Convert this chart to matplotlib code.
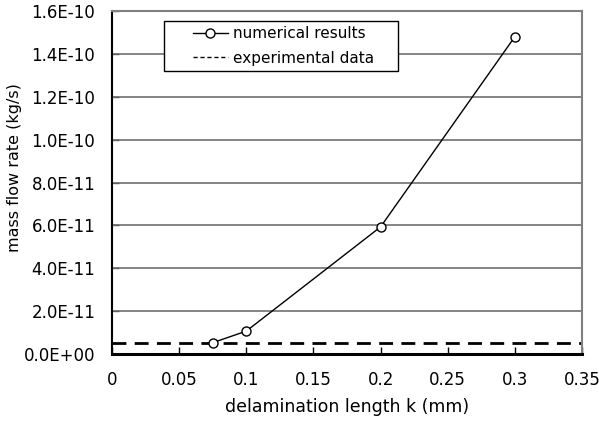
import matplotlib
matplotlib.use("Agg")
import matplotlib.pyplot as plt
from matplotlib.patches import Rectangle

plt.rcParams['font.family'] = ['DejaVu Sans']

k_mm = [0.075, 0.1, 0.2, 0.3]
flow_numerical = [5.3e-12, 1.07e-11, 5.93e-11, 1.48e-10]
flow_experimental = 5.1e-12

xticks = [0, 0.05, 0.1, 0.15, 0.2, 0.25, 0.3, 0.35]
xticklabels = ['0', '0.05', '0.1', '0.15', '0.2', '0.25', '0.3', '0.35']
yticks = [0, 2e-11, 4e-11, 6e-11, 8e-11, 1.0e-10, 1.2e-10, 1.4e-10, 1.6e-10]
yticklabels = ['0.0E+00', '2.0E-11', '4.0E-11', '6.0E-11', '8.0E-11',
               '1.0E-10', '1.2E-10', '1.4E-10', '1.6E-10']

fig = plt.figure(figsize=(5.99, 4.23), dpi=100)
ax = fig.add_axes([0.187, 0.163, 0.7846, 0.811])

ax.set_xlim(0, 0.35)
ax.set_ylim(0, 1.6e-10)
ax.set_xticks(xticks)
ax.set_xticklabels(xticklabels)
ax.set_yticks(yticks)
ax.set_yticklabels(yticklabels)

ax.yaxis.grid(True, color='#707070', linewidth=1.2)
ax.set_axisbelow(True)

ax.plot(k_mm, flow_numerical, color='black', linewidth=1.0, marker='o',
        markersize=6.5, markerfacecolor='white', markeredgecolor='black',
        markeredgewidth=1.0, label='numerical results', zorder=3)
ax.axhline(flow_experimental, color='black', linewidth=2.0,
           linestyle=(0, (5, 3)), label='experimental data', zorder=2)

for s in ['top', 'right']:
    ax.spines[s].set_color('#808080')
    ax.spines[s].set_linewidth(1.5)
ax.spines['left'].set_color('black')
ax.spines['left'].set_linewidth(1.5)
ax.spines['bottom'].set_color('black')
ax.spines['bottom'].set_linewidth(2.2)

ax.tick_params(axis='both', direction='in', length=5, width=1, labelsize=12,
               colors='black')
ax.tick_params(axis='x', pad=12)
ax.tick_params(axis='y', pad=12, color='#606060')

ax.set_xlabel('delamination length k (mm)', fontsize=12.5, labelpad=7)
ax.set_ylabel('mass flow rate (kg/s)', fontsize=11.5)
ax.yaxis.set_label_coords(-0.191, 0.545)

# legend box (white, black edge) drawn in axes coords
box = Rectangle((0.1106, 0.825), 0.498, 0.146, transform=ax.transAxes,
                facecolor='white', edgecolor='black', linewidth=1.0, zorder=4)
ax.add_patch(box)

leg = ax.legend(loc='upper left', bbox_to_anchor=(0.172, 0.955), frameon=False,
                fontsize=11, handlelength=2.3, handletextpad=0.3,
                borderpad=0.0, labelspacing=0.6, borderaxespad=0)
leg.set_zorder(5)
leg.get_lines()[1].set_linewidth(1.0)
leg.get_lines()[1].set_linestyle((0, (3, 2)))

fig.savefig('out.png', dpi=100)
